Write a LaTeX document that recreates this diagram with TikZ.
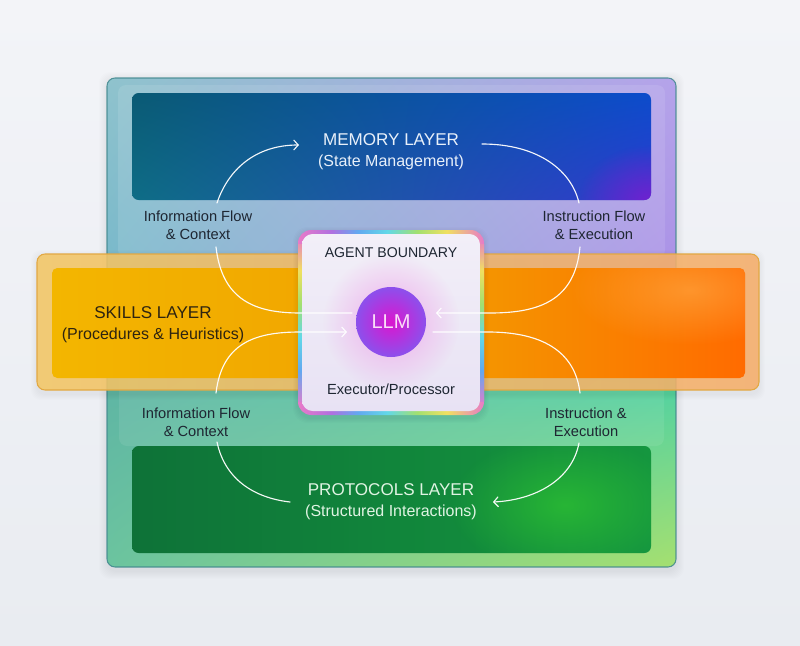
\documentclass[tikz,border=0pt]{standalone}
\usepackage{fontspec}
\setmainfont{Liberation Sans}
\usetikzlibrary{arrows.meta,fadings,shadings}
\tikzfading[name=glowfade, inner color=transparent!0, outer color=transparent!100]
\definecolor{bgTop}{HTML}{F3F4F8}
\definecolor{bgBot}{HTML}{E9ECF1}
\definecolor{fUL}{HTML}{8FC3CD}
\definecolor{fUR}{HTML}{B5A3EA}
\definecolor{fLL}{HTML}{72B6C9}
\definecolor{fLR}{HTML}{A98DE6}
\definecolor{gUL}{HTML}{5BB0A6}
\definecolor{gUR}{HTML}{36CDB2}
\definecolor{gLL}{HTML}{6BC49F}
\definecolor{gLR}{HTML}{A5E070}
\definecolor{frameBorder}{HTML}{3F878D}
\definecolor{mUL}{HTML}{0A5A74}
\definecolor{mUR}{HTML}{0C4CCB}
\definecolor{mLL}{HTML}{0E6D86}
\definecolor{mLR}{HTML}{2F3ACF}
\definecolor{mViolet}{HTML}{7A1ED0}
\definecolor{sOutL}{HTML}{F4C766}
\definecolor{sOutR}{HTML}{F6AE6A}
\definecolor{sBorder}{HTML}{E2A842}
\definecolor{sL}{HTML}{F3B600}
\definecolor{sM}{HTML}{F1A200}
\definecolor{sR}{HTML}{FF6B00}
\definecolor{sGlare}{HTML}{FFB050}
\definecolor{pL}{HTML}{0E7238}
\definecolor{pM}{HTML}{11853B}
\definecolor{pR}{HTML}{15963F}
\definecolor{pGlow}{HTML}{2EC232}
\definecolor{lblc}{HTML}{1E2632}
\definecolor{sText}{HTML}{2E2410}
\definecolor{wTitle}{HTML}{E8F0FA}
\definecolor{pTitle}{HTML}{E0F4E3}
\definecolor{agFillT}{HTML}{F2EFF8}
\definecolor{agFillB}{HTML}{E8E2F4}
\definecolor{agGlow}{HTML}{F0A6EA}
\definecolor{llmIn}{HTML}{DA16CF}
\definecolor{llmOut}{HTML}{8C50EC}
\definecolor{llmText}{HTML}{FBDDF8}
\definecolor{rbPink}{HTML}{E87AC8}
\definecolor{rbViolet}{HTML}{B070E0}
\definecolor{rbBlue}{HTML}{62A8F0}
\definecolor{rbCyan}{HTML}{62D8E8}
\definecolor{rbGreen}{HTML}{A2E070}
\definecolor{rbYellow}{HTML}{F0E060}
\pgfdeclarehorizontalshading{rbh}{100bp}{color(0bp)=(rbPink); color(25bp)=(rbPink); color(34bp)=(rbViolet); color(41bp)=(rbBlue); color(49bp)=(rbCyan); color(57bp)=(rbGreen); color(65bp)=(rbYellow); color(75bp)=(rbPink); color(100bp)=(rbPink)}
\pgfdeclareverticalshading{rbv}{100bp}{color(0bp)=(rbPink); color(27bp)=(rbPink); color(37bp)=(rbBlue); color(46bp)=(rbCyan); color(55bp)=(rbGreen); color(64bp)=(rbYellow); color(73bp)=(rbPink); color(100bp)=(rbPink)}
\tikzset{
  lbl/.style={font=\fontsize{11}{13.5}\selectfont, text=lblc, align=center, inner sep=0pt},
  ttl/.style={font=\fontsize{12.8}{15}\selectfont, inner sep=0pt},
  sub/.style={font=\fontsize{12}{14}\selectfont, inner sep=0pt},
  aglbl/.style={font=\fontsize{10.6}{13}\selectfont, text=lblc, inner sep=0pt},
  flow/.style={draw=white, line width=0.85pt, line cap=round, opacity=0.95},
  tipflow/.style={-{Straight Barb[length=3.4pt,width=7.5pt]}},
  llmball/.style={circle, minimum size=52.5pt, inner sep=0pt, inner color=llmIn, outer color=llmOut,
     text=llmText, font=\fontsize{15}{18}\selectfont}
}
\begin{document}
\begin{tikzpicture}[x=0.75pt,y=-0.75pt]
\useasboundingbox (0,0) rectangle (800,646);
\shade[top color=bgTop, bottom color=bgBot] (0,0) rectangle (800,646);

% frame shadow (soft)
\foreach \d in {1,2,...,8} {
  \fill[black, opacity=0.007, rounded corners=8pt] (107-\d,80-\d) rectangle (676+\d,571+\d);
}
% outer frame
\begin{scope}
  \clip[rounded corners=6pt] (107,78) rectangle (676,567);
  \shade[upper left=fUL, upper right=fUR, lower left=fLL, lower right=fLR] (107,78) rectangle (676,323);
  \shade[upper left=gUL, upper right=gUR, lower left=gLL, lower right=gLR] (107,322) rectangle (676,567);
  \fill[white, opacity=0.10, rounded corners=6pt] (118,85) rectangle (665,258);
  \fill[white, opacity=0.08, rounded corners=6pt] (119,372) rectangle (664,446);
\end{scope}
\draw[frameBorder, opacity=0.85, line width=0.8pt, rounded corners=6pt] (107,78) rectangle (676,567);

% memory layer
\begin{scope}
  \clip[rounded corners=5pt] (132,93) rectangle (651,200);
  \shade[upper left=mUL, upper right=mUR, lower left=mLL, lower right=mLR] (132,93) rectangle (651,200);
  \fill[mViolet, path fading=glowfade, opacity=0.85] (648,200) ellipse (70 and 55);
\end{scope}

% protocols layer
\begin{scope}
  \clip[rounded corners=5pt] (132,446) rectangle (651,553);
  \shade[left color=pL, right color=pR, middle color=pM] (132,446) rectangle (651,553);
  \fill[pGlow, path fading=glowfade, opacity=0.75] (565,505) ellipse (115 and 70);
\end{scope}

% skills band shadow (soft)
\foreach \d in {1,2,...,6} {
  \fill[black, opacity=0.008, rounded corners=7pt] (37-\d,256-\d) rectangle (759+\d,394+\d);
}
% skills layer
\shade[left color=sOutL, right color=sOutR, opacity=0.88, rounded corners=6pt] (37,254) rectangle (759,390);
\draw[sBorder, line width=0.8pt, rounded corners=6pt] (37,254) rectangle (759,390);
\begin{scope}
  \clip[rounded corners=4pt] (52,268) rectangle (745,378);
  \shade[left color=sL, right color=sR, middle color=sM] (52,268) rectangle (745,378);
  \fill[sGlare, path fading=glowfade, opacity=0.55] (690,290) ellipse (120 and 55);
\end{scope}

% texts
\node[ttl, text=wTitle] (memT) at (391,140) {MEMORY LAYER};
\node[sub, text=wTitle] (memS) at (391,162) {(State Management)};
\node[lbl] (infoU) at (198,225) {Information Flow\\\& Context};
\node[lbl] (instU) at (594,225) {Instruction Flow\\\& Execution};
\node[ttl, text=sText] (skT) at (153,313) {SKILLS LAYER};
\node[sub, text=sText] (skS) at (153,335) {(Procedures \& Heuristics)};
\node[lbl] (infoD) at (196,422) {Information Flow\\\& Context};
\node[lbl] (instD) at (586,422) {Instruction \&\\Execution};
\node[ttl, text=pTitle] (proT) at (391,490) {PROTOCOLS LAYER};
\node[sub, text=pTitle] (proS) at (391,512) {(Structured Interactions)};

% agent boundary box
\foreach \d in {1,2,...,5} {
  \fill[black, opacity=0.012, rounded corners=11pt] (298-\d,232-\d) rectangle (484+\d,418+\d);
}
\shade[shading=rbh, rounded corners=10pt] (298,230) rectangle (484,415);
\begin{scope}
  \clip (295,244) rectangle (303,401);
  \shade[shading=rbv] (298,230) rectangle (484,415);
\end{scope}
\begin{scope}
  \clip (479,244) rectangle (487,401);
  \shade[shading=rbv] (298,230) rectangle (484,415);
\end{scope}
\begin{scope}
  \clip[rounded corners=8pt] (302,234) rectangle (480,411);
  \shade[top color=agFillT, bottom color=agFillB] (302,234) rectangle (480,411);
  \fill[agGlow, path fading=glowfade, opacity=0.9] (391,322) circle (68);
\end{scope}
\node[aglbl] (agT) at (391,253) {AGENT BOUNDARY};
\node[aglbl, font=\fontsize{11}{13}\selectfont] (agE) at (391,389) {Executor/Processor};
\node[llmball] (llm) at (391,322) {LLM};

% connector coordinates
\coordinate (a1s) at (217,203);  \coordinate (a1e) at (299,145);
\coordinate (a2s) at (482,144);  \coordinate (a2e) at (579,203);
\coordinate (a3s) at (580,247);  \coordinate (a3m) at (490,313); \coordinate (a3e) at (436,313);
\coordinate (a4s) at (216,247);  \coordinate (a4m) at (300,313); \coordinate (a4e) at (352,313);
\coordinate (a5s) at (216,393);  \coordinate (a5m) at (300,332); \coordinate (a5e) at (347,332);
\coordinate (a6s) at (433,332);  \coordinate (a6m) at (488,332); \coordinate (a6e) at (580,393);
\coordinate (a7s) at (217,442);  \coordinate (a7e) at (290,502);
\coordinate (a8s) at (579,443);  \coordinate (a8e) at (493,502);

% connectors
\draw[flow, tipflow] (a1s) .. controls (228,170) and (255,145) .. (a1e);
\draw[flow] (a2s) .. controls (540,144) and (572,172) .. (a2e);
\draw[flow, tipflow] (a3s) .. controls (575,300) and (540,313) .. (a3m) -- (a3e);
\draw[flow] (a4s) .. controls (222,300) and (255,313) .. (a4m) -- (a4e);
\draw[flow, tipflow] (a5s) .. controls (222,343) and (255,332) .. (a5m) -- (a5e);
\draw[flow] (a6s) -- (a6m) .. controls (540,332) and (575,350) .. (a6e);
\draw[flow] (a7s) .. controls (225,480) and (255,498) .. (a7e);
\draw[flow, tipflow] (a8s) .. controls (572,480) and (535,500) .. (a8e);
\end{tikzpicture}
\end{document}
